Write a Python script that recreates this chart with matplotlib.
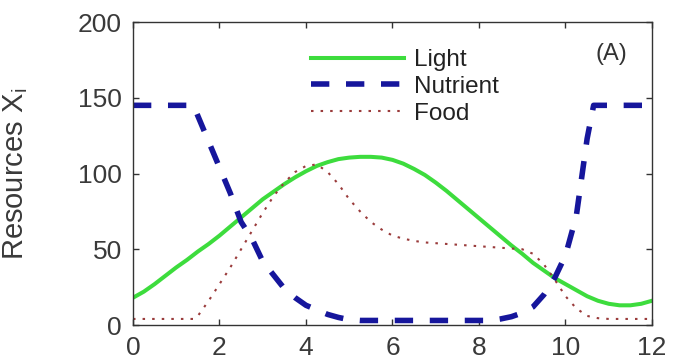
import matplotlib
matplotlib.use("Agg")
import matplotlib.pyplot as plt

plt.rcParams['font.family'] = ['Liberation Sans', 'DejaVu Sans']

# Light intensity over depth
light_x = [0, 0.25, 0.5, 0.75, 1.0, 1.25, 1.5, 1.75, 2.0, 2.25, 2.5, 2.75, 3.0,
           3.25, 3.5, 3.75, 4.0, 4.25, 4.5, 4.75, 5.0, 5.25, 5.5, 5.75, 6.0,
           6.25, 6.5, 6.75, 7.0, 7.25, 7.5, 7.75, 8.0, 8.25, 8.5, 8.75, 9.0,
           9.25, 9.5, 9.75, 10.0, 10.25, 10.5, 10.75, 11.0, 11.25, 11.5, 11.75, 12.0]
light_y = [18, 22, 27, 32.5, 38, 43, 48.5, 53.5, 59, 65, 71, 77, 83,
           88, 93, 97.5, 101.5, 105, 107.5, 109.5, 110.5, 111, 111, 110.5, 109,
           106.5, 103, 99, 94, 88.5, 82.5, 76.5, 70.5, 64.5, 58.5, 52.5, 47,
           41, 36, 31, 27, 23, 19, 16, 14, 13, 13, 14, 16]

# Nutrient concentration
nutrient_x = [0, 0.5, 1.0, 1.4, 1.5, 1.75, 2.0, 2.25, 2.5, 2.75, 3.0, 3.25, 3.5,
              3.75, 4.0, 4.25, 4.5, 4.75, 5.0, 5.25, 6.0, 7.0, 8.0, 8.25, 8.5,
              8.75, 9.0, 9.25, 9.5, 9.75, 10.0, 10.25, 10.5, 10.65, 11.0, 12.0]
nutrient_y = [145, 145, 145, 145, 138, 121, 104, 87, 68, 57, 42, 33, 24,
              18, 13, 10, 7, 5, 3.5, 3, 3, 3, 3, 3, 4,
              5.5, 8, 12, 20, 31, 46, 72, 123, 145, 145, 145]

# Food availability
food_x = [0, 0.5, 1.0, 1.4, 1.5, 1.75, 2.0, 2.25, 2.5, 2.75, 3.0, 3.25, 3.5,
          3.75, 4.0, 4.25, 4.5, 4.75, 5.0, 5.25, 5.5, 5.75, 6.0, 6.25, 6.5,
          6.75, 7.0, 7.5, 8.0, 8.5, 9.0, 9.25, 9.5, 9.75, 10.0, 10.25, 10.5,
          10.75, 11.0, 12.0]
food_y = [4, 4, 4, 4, 6, 16, 27, 38, 50, 62, 74, 85, 94,
          101, 105, 106, 101, 93, 83, 75, 68, 63, 59, 57, 55.5,
          54.5, 54, 53, 52, 51, 50, 47, 40, 30, 19, 11, 6,
          4.5, 4, 4]

x_ticks = [0, 2, 4, 6, 8, 10, 12]
y_ticks = [0, 50, 100, 150, 200]

fig = plt.figure(figsize=(6.73, 3.62), dpi=100)
ax = fig.add_axes([0.1976, 0.1022, 0.7712, 0.8370])

ax.plot(light_x, light_y, color='#3ddc3d', lw=2.9, label='Light')
ax.plot(nutrient_x, nutrient_y, color='#16169c', lw=4.0, dashes=(3.3, 3.0),
        label='Nutrient')
ax.plot(food_x, food_y, color='#9a3b3b', lw=1.5, dashes=(1.2, 3.4),
        label='Food')

ax.set_xlim(0, 12)
ax.set_ylim(0, 200)
ax.set_xticks(x_ticks)
ax.set_yticks(y_ticks)
ax.tick_params(direction='in', length=4, width=1, top=True, right=True,
               labelsize=19, labelcolor='#3a3a3a', color='#333333')
ax.tick_params(axis='x', pad=8)
ax.tick_params(axis='y', pad=8)
for sp in ax.spines.values():
    sp.set_color('#333333')
    sp.set_linewidth(1.0)

ax.set_ylabel(r'Resources $\mathregular{X_i}$', fontsize=21, color='#3a3a3a')
ax.yaxis.set_label_coords(-0.198, 0.5)

ax.text(11.07, 179, '(A)', fontsize=17, color='#333333', ha='center', va='center')

leg = ax.legend(loc='upper left', bbox_to_anchor=(0.325, 0.943), frameon=False,
                fontsize=17.5, handlelength=3.83, handletextpad=0.4,
                labelspacing=0.2, borderaxespad=0)
for t in leg.get_texts():
    t.set_color('#222222')

fig.savefig('out.png', dpi=100)
